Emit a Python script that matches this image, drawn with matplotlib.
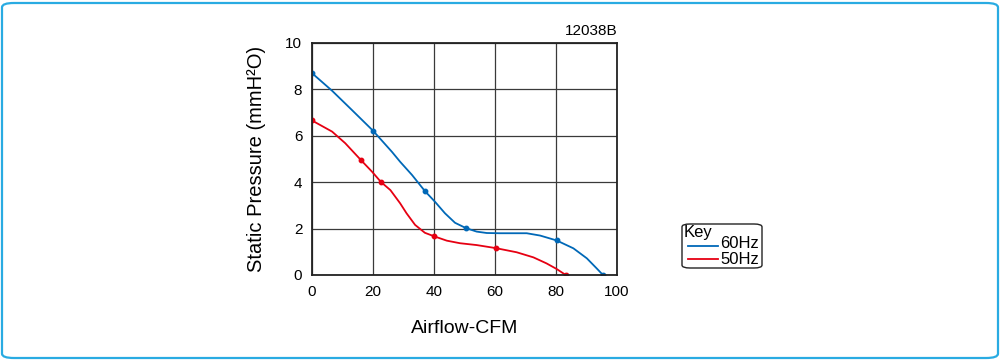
import matplotlib
matplotlib.use("Agg")
import matplotlib.pyplot as plt
from matplotlib.patches import FancyBboxPatch
from matplotlib.lines import Line2D

plt.rcParams["font.family"] = ["Liberation Sans", "DejaVu Sans"]

# 60Hz 曲线（沿线读取的点）
hz60_x = [0, 6.6, 13.1, 20.0, 26.2, 28.9, 32.8, 37.0, 40.3, 43.6, 46.9, 50.5, 54.0,
          57.3, 61.6, 64.9, 70.4, 74.8, 80.2, 85.7, 90.1, 93.3, 95.4]
hz60_y = [8.70, 7.94, 7.11, 6.22, 5.31, 4.88, 4.31, 3.62, 3.16, 2.66, 2.25, 2.02, 1.87,
          1.81, 1.80, 1.80, 1.80, 1.70, 1.49, 1.15, 0.72, 0.29, 0.0]
# 60Hz 标记点
hz60_mx = [0, 20.0, 37.0, 50.5, 80.2, 95.4]
hz60_my = [8.70, 6.22, 3.62, 2.02, 1.49, 0.0]

# 50Hz 曲线
hz50_x = [0, 6.6, 10.9, 16.0, 19.7, 22.6, 25.7, 28.9, 31.0, 33.8, 37.0, 40.0, 44.2,
          48.5, 54.0, 60.2, 67.1, 72.6, 76.9, 80.2, 83.2]
hz50_y = [6.66, 6.18, 5.68, 4.96, 4.45, 4.01, 3.66, 3.09, 2.66, 2.16, 1.82, 1.67, 1.48,
          1.37, 1.29, 1.16, 0.98, 0.76, 0.50, 0.26, 0.0]
hz50_mx = [0, 16.0, 22.6, 40.0, 60.2, 83.2]
hz50_my = [6.66, 4.96, 4.01, 1.67, 1.16, 0.0]

x_ticks = [0, 20, 40, 60, 80, 100]
y_ticks = [0, 2, 4, 6, 8, 10]

BLUE = "#0068b7"
RED = "#e60012"
W, H = 1000, 360

fig = plt.figure(figsize=(10, 3.6), dpi=100)

# 外框（圆角浅蓝）
fig.patches.append(FancyBboxPatch((2 / W, 2 / H), 996 / W, 355 / H,
                                  boxstyle="round,pad=0,rounding_size=0.012",
                                  transform=fig.transFigure, facecolor="none",
                                  edgecolor="#29abe2", linewidth=1.6))

ax = fig.add_axes([312 / W, 85 / H, 305 / W, 232 / H])
ax.plot(hz60_x, hz60_y, color=BLUE, linewidth=1.3, solid_joinstyle="round")
ax.plot(hz60_mx, hz60_my, "o", color=BLUE, markersize=3.2, linestyle="none")
ax.plot(hz50_x, hz50_y, color=RED, linewidth=1.3, solid_joinstyle="round")
ax.plot(hz50_mx, hz50_my, "o", color=RED, markersize=3.2, linestyle="none")

ax.set_xlim(0, 100)
ax.set_ylim(0, 10)
ax.set_xticks(x_ticks)
ax.set_yticks(y_ticks)
ax.tick_params(length=0, labelsize=11, pad=7)
ax.grid(True, color="#3a3a3a", linewidth=0.9)
for s in ax.spines.values():
    s.set_linewidth(1.3)
    s.set_color("#222222")
ax.set_xlabel("Airflow-CFM", fontsize=14, labelpad=15)
ax.set_ylabel("Static Pressure (mmH²O)", fontsize=14.5, labelpad=14)
ax.set_title("12038B", loc="right", fontsize=11, pad=6)

# 图例 Key
fig.patches.append(FancyBboxPatch((682 / W, (H - 268) / H), 80 / W, 44 / H,
                                  boxstyle="round,pad=0,rounding_size=0.008",
                                  transform=fig.transFigure, facecolor="none",
                                  edgecolor="#222222", linewidth=1.0))
fig.text(684 / W, (H - 233) / H, "Key", fontsize=12, va="center", ha="left")
fig.lines.append(Line2D([688 / W, 718 / W], [(H - 246) / H] * 2, color=BLUE,
                        linewidth=1.3, transform=fig.transFigure))
fig.lines.append(Line2D([688 / W, 718 / W], [(H - 259) / H] * 2, color=RED,
                        linewidth=1.3, transform=fig.transFigure))
fig.text(720 / W, (H - 244) / H, "60Hz", fontsize=12, va="center", ha="left")
fig.text(720 / W, (H - 259) / H, "50Hz", fontsize=12, va="center", ha="left")

fig.savefig("out.png", dpi=100)
